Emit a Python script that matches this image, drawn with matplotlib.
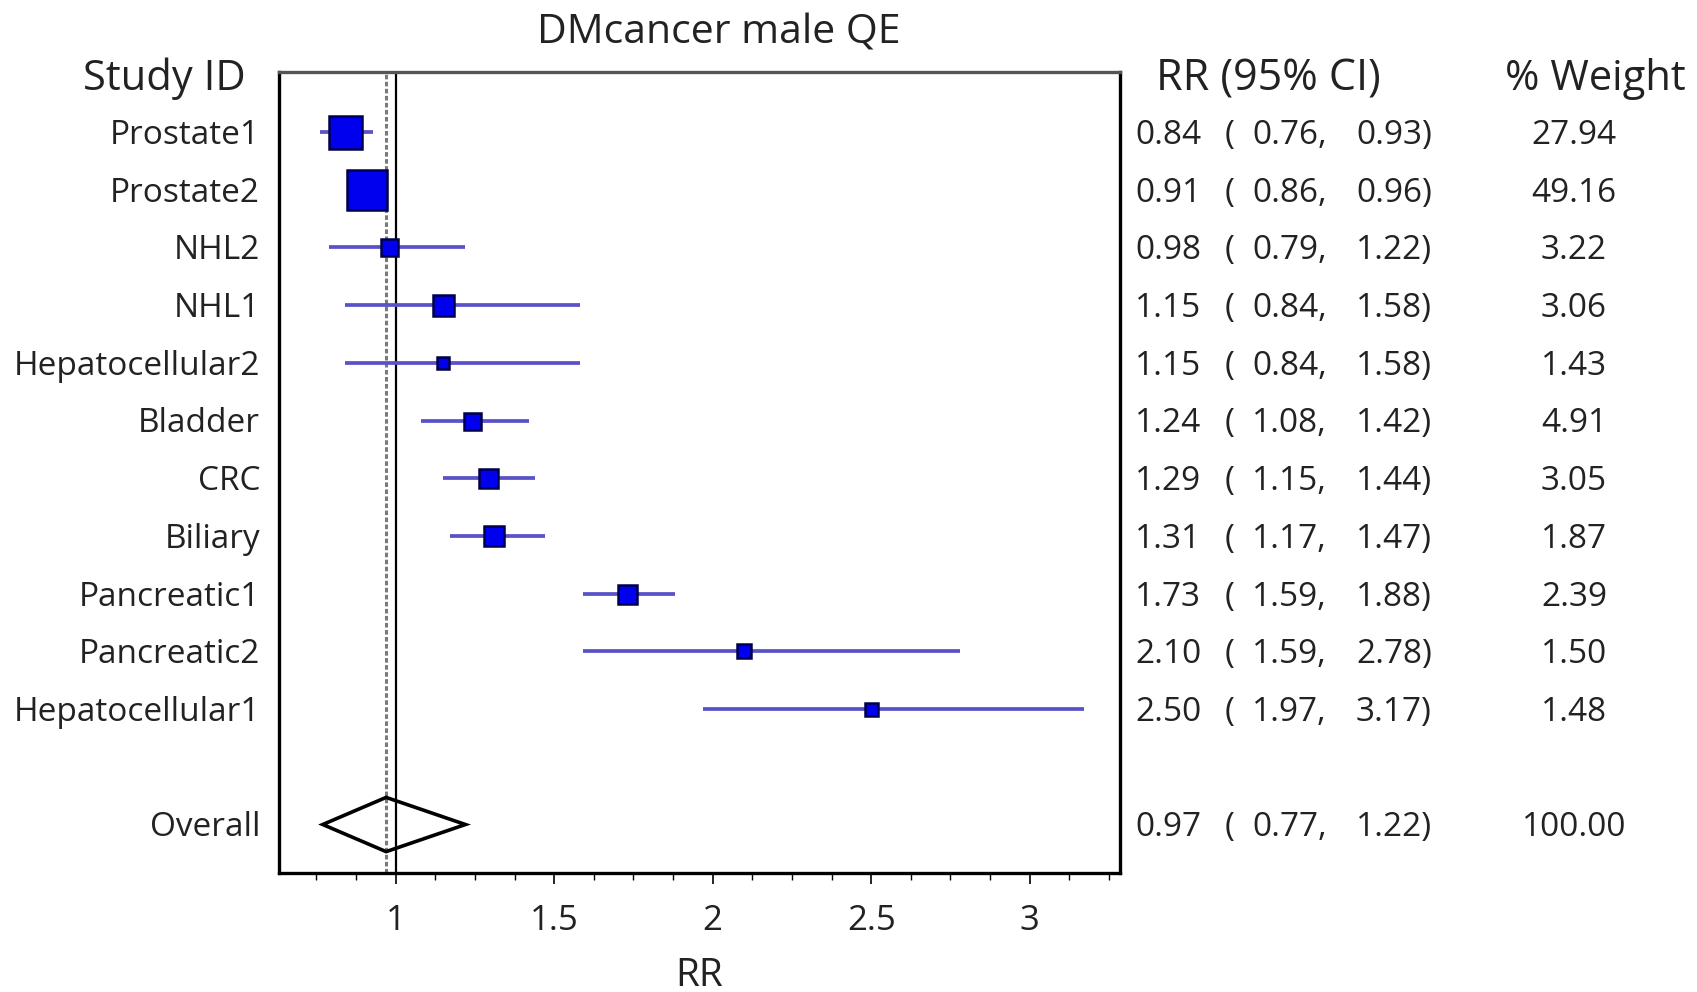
import matplotlib
matplotlib.use("Agg")
import matplotlib.pyplot as plt
from matplotlib.transforms import blended_transform_factory
from matplotlib.patches import Polygon
from matplotlib.ticker import MultipleLocator

plt.rcParams['font.family'] = ['Open Sans', 'DejaVu Sans']

# ---- data ----
studies = ["Prostate1", "Prostate2", "NHL2", "NHL1", "Hepatocellular2", "Bladder",
           "CRC", "Biliary", "Pancreatic1", "Pancreatic2", "Hepatocellular1"]
rr = [0.84, 0.91, 0.98, 1.15, 1.15, 1.24, 1.29, 1.31, 1.73, 2.10, 2.50]
lo = [0.76, 0.86, 0.79, 0.84, 0.84, 1.08, 1.15, 1.17, 1.59, 1.59, 1.97]
hi = [0.93, 0.96, 1.22, 1.58, 1.58, 1.42, 1.44, 1.47, 1.88, 2.78, 3.17]
weights = [27.94, 49.16, 3.22, 3.06, 1.43, 4.91, 3.05, 1.87, 2.39, 1.50, 1.48]
overall_rr, overall_lo, overall_hi, overall_w = 0.97, 0.77, 1.22, 100.00
xticks = [1, 1.5, 2, 2.5, 3]
xtick_labels = ["1", "1.5", "2", "2.5", "3"]

# ---- style: box side lengths (px) as drawn in the source ----
box_px = [33, 40, 17, 21, 12, 17, 19, 20, 19, 14, 13]

W, H, DPI = 1697, 992, 100
fig = plt.figure(figsize=(W / DPI, H / DPI), dpi=DPI)
ax = fig.add_axes([279 / W, (H - 873) / H, (1120 - 279) / W, (873 - 72.5) / H])

rows = list(range(1, len(studies) + 1))
overall_row = len(studies) + 2

ax.set_xlim(0.632, 3.285)
ax.set_ylim(13.84, -0.03)

# reference lines
ax.axvline(1.0, color='black', lw=1.6, zorder=2)
ax.axvline(overall_rr, color='#7a7a7a', lw=2.2, ls=(0, (1.5, 0.8)), zorder=2)

# CIs and boxes
for r, m, l, h, s in zip(rows, rr, lo, hi, box_px):
    ax.plot([l, h], [r, r], color='#5a52c8', lw=2.7, solid_capstyle='butt', zorder=3)
    ax.plot([m], [r], marker='s', markersize=s * 0.72, markerfacecolor='#0000ee',
            markeredgecolor='#00004a', markeredgewidth=1.8, zorder=4)

# overall diamond
dh = 0.47
diamond = Polygon([[overall_lo, overall_row], [overall_rr, overall_row - dh],
                   [overall_hi, overall_row], [overall_rr, overall_row + dh]],
                  closed=True, fill=False, edgecolor='black', lw=2.6, zorder=5,
                  joinstyle='miter')
ax.add_patch(diamond)

# axes styling
for sp in ax.spines.values():
    sp.set_linewidth(2.4)
    sp.set_color('black')
ax.spines['top'].set_color('#555555')
ax.set_yticks([])
ax.set_xticks(xticks)
ax.set_xticklabels(xtick_labels, fontsize=25, color='#222222')
ax.xaxis.set_minor_locator(MultipleLocator(0.125))
ax.tick_params(axis='x', which='major', direction='out', length=8, width=1.2, pad=14)
ax.tick_params(axis='x', which='minor', direction='out', length=5, width=1.0)
ax.set_xlabel("RR", fontsize=28, labelpad=14, color='#222222')

# text columns
tr = blended_transform_factory(fig.transFigure, ax.transData)
lab_x = 260 / W
rr_x = 1135 / W
par_x = 1225 / W
lo_x = 1252 / W
hi_x = 1356 / W
w_x = 1574 / W
fs = 24
tc = '#222222'
dy = 0.06  # small downward text offset (rows)


def row_text(r, name, m, l, h, w):
    y = r + dy
    ax.text(lab_x, y, name, transform=tr, ha='right', va='center', fontsize=fs, color=tc)
    ax.text(rr_x, y, f"{m:.2f}", transform=tr, ha='left', va='center', fontsize=fs, color=tc)
    ax.text(par_x, y, "(", transform=tr, ha='left', va='center', fontsize=fs, color=tc)
    ax.text(lo_x, y, f"{l:.2f},", transform=tr, ha='left', va='center', fontsize=fs, color=tc)
    ax.text(hi_x, y, f"{h:.2f})", transform=tr, ha='left', va='center', fontsize=fs, color=tc)
    ax.text(w_x, y, f"{w:.2f}", transform=tr, ha='center', va='center', fontsize=fs, color=tc)


for r, name, m, l, h, w in zip(rows, studies, rr, lo, hi, weights):
    row_text(r, name, m, l, h, w)
row_text(overall_row, "Overall", overall_rr, overall_lo, overall_hi, overall_w)

# headers
hy = 1 - 79 / H
fig.text(246 / W, hy, "Study ID", ha='right', va='center', fontsize=30, color=tc)
fig.text(1268 / W, hy, "RR (95% CI)", ha='center', va='center', fontsize=31, color=tc)
fig.text(1595 / W, hy, "% Weight", ha='center', va='center', fontsize=30, color=tc)
fig.text(719 / W, 1 - 33 / H, "DMcancer male QE", ha='center', va='center', fontsize=29.5, color=tc)

fig.savefig("out.png", dpi=DPI, facecolor='white')
